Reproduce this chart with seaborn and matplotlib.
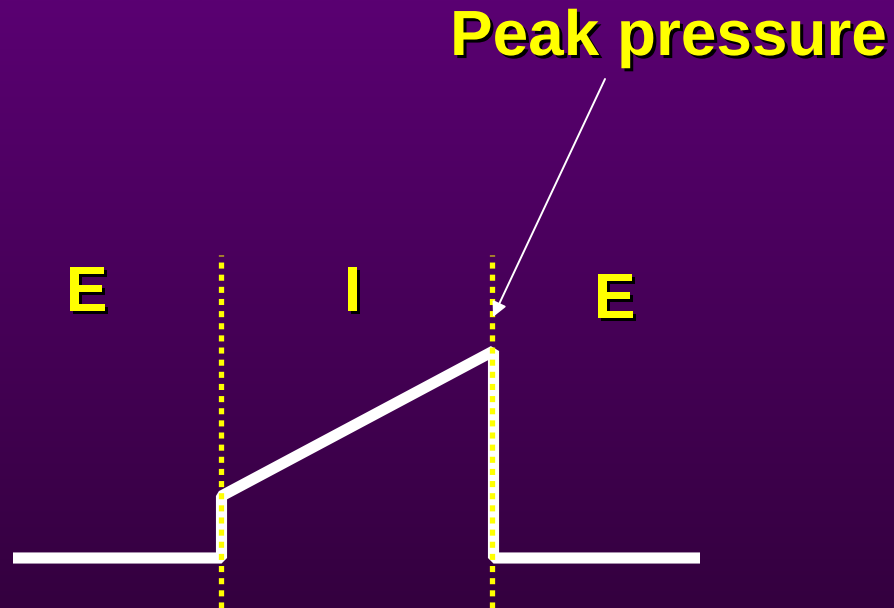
import numpy as np
import pandas as pd
import matplotlib
matplotlib.use("Agg")
import matplotlib.pyplot as plt
import matplotlib.patheffects as pe
import seaborn as sns

# Airway pressure waveform (time in arbitrary units, pressure in arbitrary units)
time = [0.0, 2.085, 2.085, 4.805, 4.805, 6.87]
pressure = [0.0, 0.0, 6.2, 20.7, 0.0, 0.0]

# Phase boundaries (start / end of inspiration)
phase_bounds = [2.08, 4.795]
phase_labels = ["E", "I", "E"]
phase_label_x = [0.735, 3.395, 6.015]
phase_label_y = [24.7, 24.7, 24.0]

peak_label = "Peak pressure"

XLIM = (-0.13, 8.82)
YLIM = (-5.0, 55.8)

sns.set_theme(style="white")
plt.rcParams["font.family"] = ["Liberation Sans", "DejaVu Sans"]

fig = plt.figure(figsize=(8.95, 6.08), dpi=100)
ax = fig.add_axes([0, 0, 1, 1])
ax.set_xlim(*XLIM)
ax.set_ylim(*YLIM)
ax.axis("off")

# Vertical purple gradient background
top = np.array([90, 0, 114]) / 255
bottom = np.array([52, 0, 63]) / 255
f = np.linspace(0, 1, 256)[:, None]
grad = (top[None, :] * (1 - f) + bottom[None, :] * f)[:, None, :]
ax.imshow(grad, extent=[XLIM[0], XLIM[1], YLIM[0], YLIM[1]],
          aspect="auto", origin="upper", zorder=0)

df = pd.DataFrame({"time": time, "pressure": pressure})
sns.lineplot(data=df, x="time", y="pressure", sort=False, estimator=None,
             errorbar=None, ax=ax, color="white", linewidth=8.0, zorder=2,
             solid_capstyle="butt", solid_joinstyle="bevel")

# Dotted phase boundaries
for xb in phase_bounds:
    ax.vlines(xb, YLIM[0], 30.3, colors="#ffff00", linewidth=3.8,
              linestyles=(0, (1.15, 1.15)), zorder=3, capstyle="butt")

shadow = [pe.SimplePatchShadow(offset=(2.2, -2.2), shadow_rgbFace="black", alpha=1.0),
          pe.Normal()]

for lbl, xl, yl in zip(phase_labels, phase_label_x, phase_label_y):
    ax.text(xl, yl, lbl, ha="center", va="baseline", fontsize=46,
            fontweight="bold", color="#ffff00", path_effects=shadow, zorder=4)

ax.text(4.37, 50.3, peak_label, ha="left", va="baseline", fontsize=46,
        fontweight="bold", color="#ffff00", path_effects=shadow, zorder=4)

ax.annotate("", xy=(4.80, 24.1), xytext=(5.92, 47.9),
            arrowprops=dict(arrowstyle="-|>", color="white", lw=1.4,
                            mutation_scale=22, shrinkA=0, shrinkB=0),
            zorder=4)

fig.savefig("out.png", dpi=100)
